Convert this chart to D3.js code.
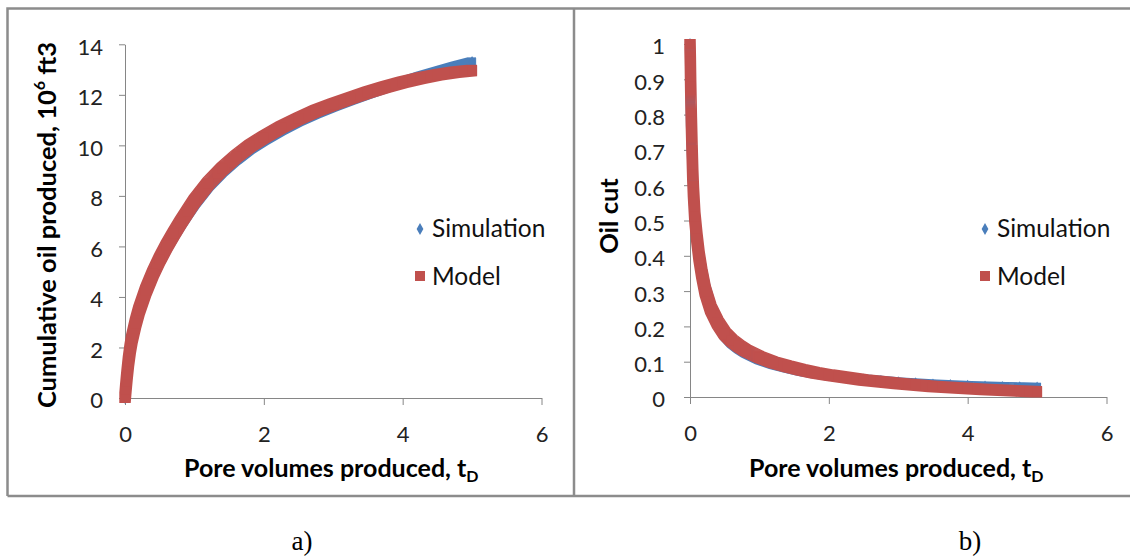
<!DOCTYPE html>
<html>
<head>
<meta charset="utf-8">
<script src="https://cdn.jsdelivr.net/npm/d3@7"></script>
<style>
  html, body { margin: 0; padding: 0; background: #fff; }
  svg { display: block; }
  .tick text { font-family: Lato, "Open Sans", sans-serif; font-size: 22px; fill: #222; }
</style>
</head>
<body>
<svg id="chart" width="1130" height="557"></svg>
<script>
// Panel a) cumulative oil produced (10^6 ft3) versus pore volumes produced
const tdA = [0, 0.01, 0.02, 0.03, 0.05, 0.075, 0.1, 0.15, 0.2, 0.3, 0.4, 0.5, 0.6, 0.7, 0.8, 0.9,
             1.0, 1.2, 1.4, 1.6, 1.8, 2.0, 2.25, 2.5, 2.75, 3.0, 3.25, 3.5, 3.75, 4.0, 4.25, 4.5, 4.75, 5.0];
const cumOilSimulation = [0, 0.33, 0.64, 0.93, 1.43, 1.93, 2.32, 2.92, 3.42, 4.22, 4.88, 5.44, 5.95, 6.42, 6.86, 7.28,
             7.68, 8.38, 8.95, 9.43, 9.85, 10.2, 10.6, 10.95, 11.26, 11.54, 11.8, 12.04, 12.28, 12.5, 12.72, 12.92, 13.12, 13.3];
const cumOilModel = [0, 0.33, 0.64, 0.93, 1.45, 1.95, 2.35, 2.95, 3.45, 4.25, 4.92, 5.5, 6.02, 6.5, 6.95, 7.38,
             7.8, 8.5, 9.07, 9.56, 9.98, 10.33, 10.72, 11.06, 11.37, 11.63, 11.87, 12.1, 12.31, 12.5, 12.66, 12.79, 12.89, 12.96];

// Panel b) oil cut versus pore volumes produced
const tdB = [0, 0.005, 0.01, 0.02, 0.03, 0.04, 0.05, 0.07, 0.1, 0.13, 0.17, 0.22, 0.3, 0.4, 0.5, 0.6, 0.7, 0.8,
             1.0, 1.2, 1.4, 1.6, 1.8, 2.0, 2.25, 2.5, 2.75, 3.0, 3.25, 3.5, 3.75, 4.0, 4.25, 4.5, 4.75, 5.0];
const oilCutSimulation = [1.0, 0.85, 0.78, 0.72, 0.66, 0.61, 0.565, 0.5, 0.45, 0.405, 0.36, 0.31, 0.255, 0.21, 0.175, 0.153, 0.138, 0.125,
             0.106, 0.093, 0.083, 0.074, 0.067, 0.061, 0.055, 0.05, 0.046, 0.042, 0.039, 0.036, 0.034, 0.032, 0.030, 0.029, 0.028, 0.027];
const oilCutModel = [1.0, 0.95, 0.88, 0.78, 0.70, 0.63, 0.58, 0.51, 0.45, 0.40, 0.35, 0.30, 0.25, 0.21, 0.18, 0.16, 0.145, 0.132,
             0.113, 0.098, 0.087, 0.077, 0.069, 0.062, 0.055, 0.048, 0.043, 0.038, 0.034, 0.030, 0.027, 0.024, 0.021, 0.019, 0.017, 0.015];

const xTicks = [0, 2, 4, 6];
const yTicksA = [0, 2, 4, 6, 8, 10, 12, 14];
const yTicksB = [0, 0.1, 0.2, 0.3, 0.4, 0.5, 0.6, 0.7, 0.8, 0.9, 1];
const seriesNames = ["Simulation", "Model"];
const captions = ["a)", "b)"];

const BLUE = "#4a7ebb", RED = "#c0504d", AXIS = "#868686", FRAME = "#8c8c8c";
const svg = d3.select("#chart");

// Square-brush look of dense Excel markers: thin path dilated by a box kernel
const defs = svg.append("defs");
[["dilRed", 5], ["dilBlue", 4]].forEach(([id, r]) => {
  const f = defs.append("filter").attr("id", id)
    .attr("filterUnits", "userSpaceOnUse")
    .attr("x", 0).attr("y", 0).attr("width", 1130).attr("height", 557)
    .attr("color-interpolation-filters", "sRGB");
  f.append("feMorphology").attr("operator", "dilate").attr("radius", r);
});

// Panel frames
const frame = svg.append("g").attr("stroke", FRAME).attr("stroke-width", 2.5).attr("fill", "none");
frame.append("path").attr("d", "M7.5,496 V8.5 H1130");
frame.append("path").attr("d", "M574,8.5 V496");
frame.append("path").attr("d", "M7.5,496 H1130");

function panel(cfg) {
  const g = svg.append("g");
  const x = d3.scaleLinear().domain([0, 6]).range(cfg.xRange);
  const y = d3.scaleLinear().domain(cfg.yDomain).range(cfg.yRange);

  const ax = g.append("g").attr("transform", `translate(0,${cfg.yRange[0]})`)
    .call(d3.axisBottom(x).tickValues(xTicks).tickFormat(d3.format("d"))
      .tickSize(7).tickSizeOuter(0).tickPadding(21));
  const ay = g.append("g").attr("transform", `translate(${cfg.xRange[0]},0)`)
    .call(d3.axisLeft(y).tickValues(cfg.yTicks).tickFormat(cfg.fmt)
      .tickSize(6).tickSizeOuter(0).tickPadding(cfg.yPad));
  [ax, ay].forEach(a => {
    a.select(".domain").attr("stroke", AXIS);
    a.selectAll(".tick line").attr("stroke", AXIS);
    a.selectAll(".tick text").attr("font-family", null).attr("font-size", null);
  });
  ay.selectAll(".tick text").attr("dy", "0.45em");

  const line = d3.line().x(d => x(d[0])).y(d => y(d[1]));
  const simPts = cfg.t.map((t, i) => [t, cfg.sim[i]]);
  const modPts = cfg.t.map((t, i) => [t, cfg.model[i]]);

  const plot = g.append("g");
  plot.append("path").datum(simPts).attr("d", line)
    .attr("fill", "none").attr("stroke", BLUE).attr("stroke-width", 1.6)
    .attr("filter", "url(#dilBlue)");
  plot.selectAll(".sim").data(simPts).join("path").attr("class", "sim")
    .attr("d", d3.symbol(d3.symbolDiamond, 40))
    .attr("transform", d => `translate(${x(d[0])},${y(d[1])})`).attr("fill", BLUE);
  plot.append("path").datum(modPts).attr("d", line)
    .attr("fill", "none").attr("stroke", RED).attr("stroke-width", 1.5)
    .attr("filter", "url(#dilRed)");
  plot.selectAll(".mod").data(modPts).join("rect").attr("class", "mod")
    .attr("x", d => x(d[0]) - 5).attr("y", d => y(d[1]) - 5)
    .attr("width", 10).attr("height", 10).attr("fill", RED);

  // Axis titles
  const yt = g.append("text")
    .attr("transform", `translate(${cfg.yTitlePos[0]},${cfg.yTitlePos[1]}) rotate(-90)`)
    .attr("text-anchor", "middle").attr("dominant-baseline", "central")
    .attr("font-family", "Lato, sans-serif").attr("font-weight", "bold")
    .attr("font-size", 25.5).attr("fill", "#000");
  cfg.yTitle(yt);

  const xt = g.append("text")
    .attr("x", (cfg.xRange[0] + cfg.xRange[1]) / 2 - 2).attr("y", 477)
    .attr("text-anchor", "middle")
    .attr("font-family", "Lato, sans-serif").attr("font-weight", "bold")
    .attr("font-size", 25).attr("fill", "#000");
  xt.append("tspan").text("Pore volumes produced, t");
  xt.append("tspan").attr("font-size", 16).attr("dy", 5).text("D");

  // Legend
  const lg = g.append("g").attr("transform", `translate(${cfg.legend[0]},${cfg.legend[1]})`);
  lg.append("path").attr("d", d3.symbol(d3.symbolDiamond, 40)).attr("fill", BLUE)
    .attr("transform", "translate(0,1)");
  lg.append("rect").attr("x", -5).attr("y", 43).attr("width", 10).attr("height", 10).attr("fill", RED);
  lg.selectAll("text").data(seriesNames).join("text")
    .attr("x", 12).attr("y", (d, i) => i * 48 + 9)
    .attr("font-family", "Lato, sans-serif").attr("font-size", 24.5).attr("fill", "#111")
    .text(d => d);

  svg.append("text").attr("x", cfg.caption[0]).attr("y", cfg.caption[1])
    .attr("text-anchor", "middle")
    .attr("font-family", "'Liberation Serif', serif").attr("font-size", 27).attr("fill", "#000")
    .text(cfg.captionText);
}

panel({
  xRange: [125, 541.5], yDomain: [0, 14], yRange: [398, 44.3], yTicks: yTicksA,
  fmt: d3.format("d"), yPad: 16,
  t: tdA, sim: cumOilSimulation, model: cumOilModel,
  yTitlePos: [46, 225],
  yTitle: t => {
    t.append("tspan").text("Cumulative oil produced, 10");
    t.append("tspan").attr("font-size", 16).attr("dy", -8).text("6");
    t.append("tspan").attr("dy", 8).text(" ft3");
  },
  legend: [420, 228], caption: [302, 550], captionText: captions[0]
});

panel({
  xRange: [690, 1106.5], yDomain: [0, 1], yRange: [397, 44], yTicks: yTicksB,
  fmt: d => d === 0 || d === 1 ? String(d) : d3.format(".1f")(d), yPad: 19,
  t: tdB, sim: oilCutSimulation, model: oilCutModel,
  yTitlePos: [608, 216],
  yTitle: t => t.text("Oil cut"),
  legend: [985, 228], caption: [970, 550], captionText: captions[1]
});
</script>
</body>
</html>
